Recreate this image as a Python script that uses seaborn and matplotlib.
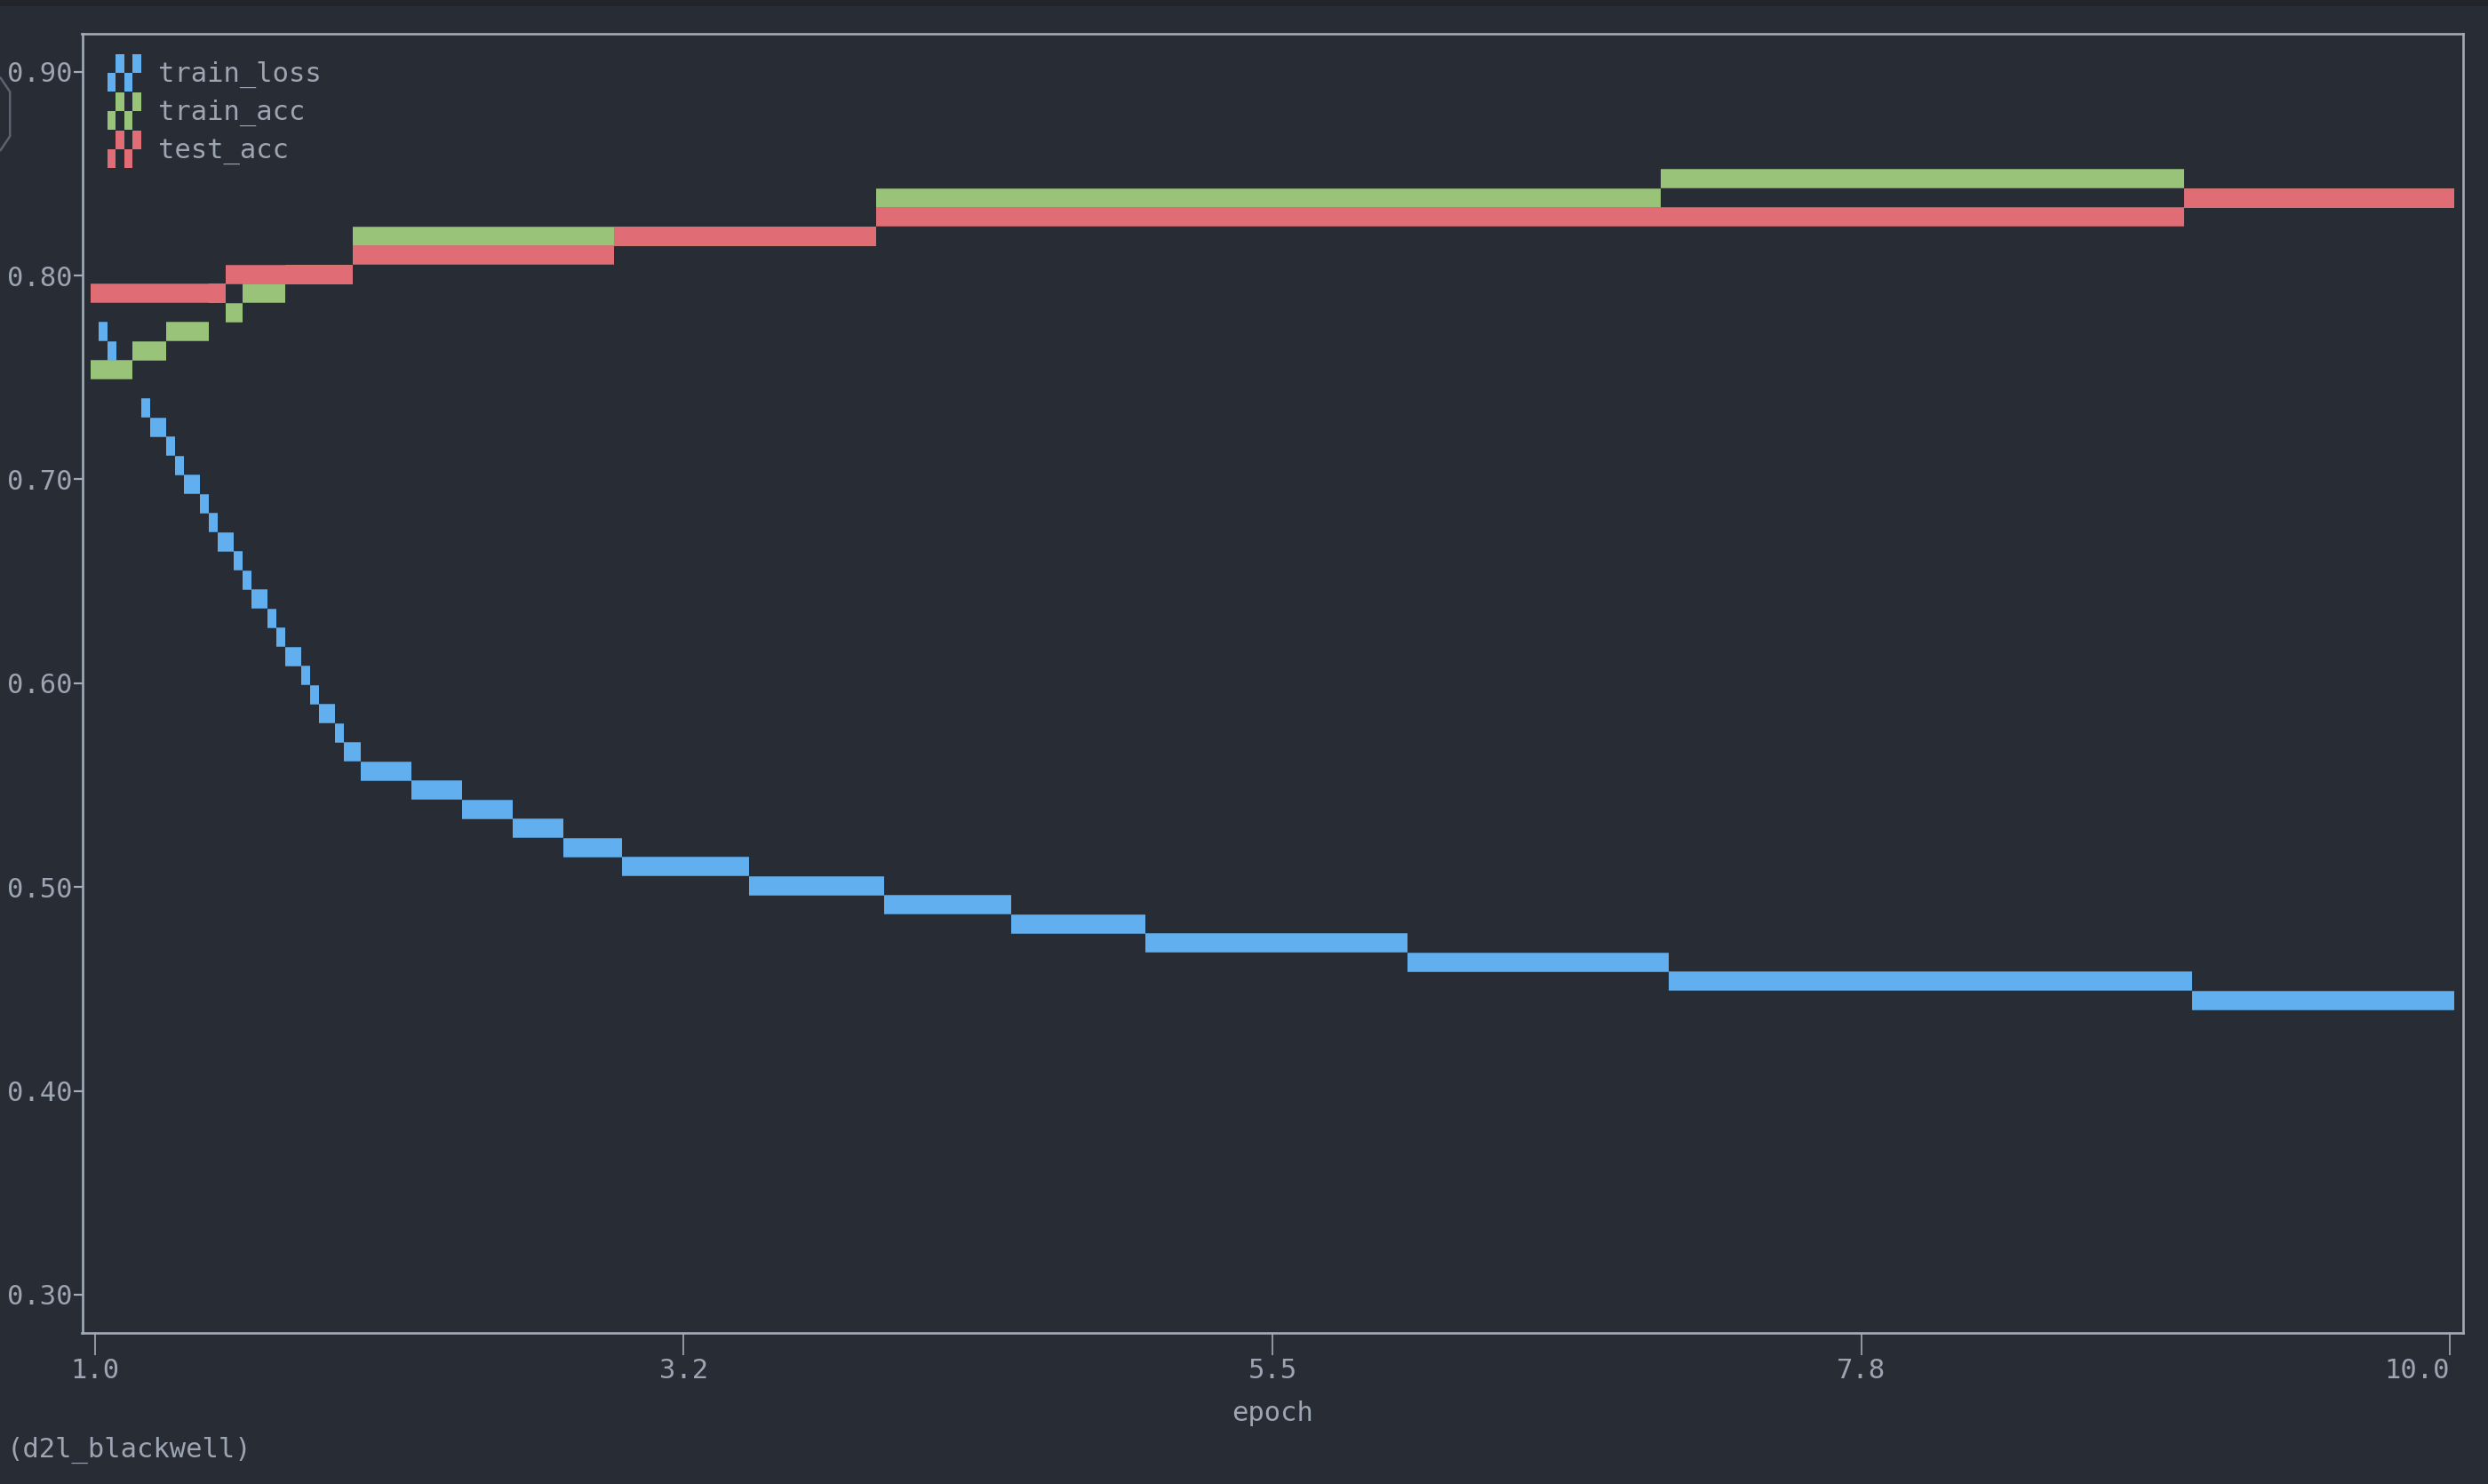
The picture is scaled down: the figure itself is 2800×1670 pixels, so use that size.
import matplotlib
matplotlib.use("Agg")
import matplotlib.pyplot as plt
import numpy as np
import pandas as pd
import seaborn as sns
from matplotlib.legend_handler import HandlerBase
from matplotlib.patches import Rectangle, Patch
from matplotlib.lines import Line2D

# ---------------- data (epoch ranges and metric values of each drawn run) ----------------
series_names = ["train_loss", "train_acc", "test_acc"]

train_loss_start = [1.016, 1.048, 1.177, 1.210, 1.274, 1.306, 1.339, 1.403, 1.435, 1.468,
                    1.532, 1.565, 1.597, 1.661, 1.694, 1.726, 1.790, 1.823, 1.855, 1.919,
                    1.952, 2.016, 2.210, 2.403, 2.597, 2.790, 3.016, 3.500, 4.016, 4.500,
                    5.016, 6.016, 7.016, 9.016]
train_loss_end = [1.048, 1.081, 1.210, 1.274, 1.306, 1.339, 1.403, 1.435, 1.468, 1.532,
                  1.565, 1.597, 1.661, 1.694, 1.726, 1.790, 1.823, 1.855, 1.919, 1.952,
                  2.016, 2.210, 2.403, 2.597, 2.790, 3.016, 3.500, 4.016, 4.500, 5.016,
                  6.016, 7.016, 9.016, 10.016]
train_loss_value = [0.7725, 0.7631, 0.7350, 0.7256, 0.7162, 0.7068, 0.6975, 0.6881, 0.6787, 0.6693,
                    0.6600, 0.6506, 0.6412, 0.6318, 0.6225, 0.6131, 0.6037, 0.5943, 0.5850, 0.5756,
                    0.5662, 0.5568, 0.5475, 0.5381, 0.5287, 0.5193, 0.5100, 0.5006, 0.4912, 0.4818,
                    0.4725, 0.4631, 0.4537, 0.4443]

train_acc_start = [0.984, 1.145, 1.274, 1.435, 1.500, 1.565, 1.726, 1.984, 3.984, 6.984, 8.984]
train_acc_end = [1.145, 1.274, 1.435, 1.500, 1.565, 1.726, 1.984, 3.984, 6.984, 8.984, 10.016]
train_acc_value = [0.7537, 0.7631, 0.7725, 0.7912, 0.7818, 0.7912, 0.8006, 0.8193, 0.8381, 0.8474, 0.8381]

test_acc_start = [0.984, 1.500, 1.984, 2.984, 3.984, 8.984]
test_acc_end = [1.500, 1.984, 2.984, 3.984, 8.984, 10.016]
test_acc_value = [0.7912, 0.8006, 0.8099, 0.8193, 0.8287, 0.8381]

x_ticks = [1.0, 3.25, 5.5, 7.75, 10.0]
x_tick_labels = ["1.0", "3.2", "5.5", "7.8", "10.0"]
y_ticks = [0.30, 0.40, 0.50, 0.60, 0.70, 0.80, 0.90]
y_tick_labels = ["0.30", "0.40", "0.50", "0.60", "0.70", "0.80", "0.90"]
x_label = "epoch"
footer_text = "(d2l_blackwell)"

# ---------------- style ----------------
BG = "#282c34"
TOP_BAR = "#21252b"
FG = "#9da5b3"
FRAME = "#a3abb8"
palette = {"train_loss": "#61afef", "train_acc": "#98c379", "test_acc": "#e06c75"}

sns.set_theme(style="dark", rc={
    "figure.facecolor": BG,
    "axes.facecolor": BG,
    "savefig.facecolor": BG,
    "axes.edgecolor": FRAME,
    "text.color": FG,
    "axes.labelcolor": FG,
    "xtick.color": FRAME,
    "ytick.color": FRAME,
    "lines.solid_capstyle": "butt",
})
plt.rcParams["font.family"] = ["DejaVu Sans Mono", "DejaVu Sans"]
FS = 22

# ---------------- long table ----------------
rows = []
seg_id = 0
for name, st, en, val in [
    ("train_loss", train_loss_start, train_loss_end, train_loss_value),
    ("train_acc", train_acc_start, train_acc_end, train_acc_value),
    ("test_acc", test_acc_start, test_acc_end, test_acc_value),
]:
    for s, e, v in zip(st, en, val):
        rows.append({"series": name, "seg": seg_id, "epoch": s, "value": v})
        rows.append({"series": name, "seg": seg_id, "epoch": e, "value": v})
        seg_id += 1
df = pd.DataFrame(rows)

# ---------------- figure ----------------
W, H = 2800, 1670
fig = plt.figure(figsize=(W / 100, H / 100), dpi=100)
ax_left, ax_right, ax_top, ax_bottom = 92.5, 2772.0, 38.0, 1500.0
ax = fig.add_axes([ax_left / W, 1 - ax_bottom / H, (ax_right - ax_left) / W, (ax_bottom - ax_top) / H])

YLIM = (0.28123, 0.91859)
XLIM = (0.95161, 10.0500)
ax.set_xlim(*XLIM)
ax.set_ylim(*YLIM)

# one text-row of the terminal in pixels -> line width in points
row_px = (ax_bottom - ax_top) * 0.009373 / (YLIM[1] - YLIM[0])
lw_pt = row_px * 72 / 100

sns.lineplot(data=df, x="epoch", y="value", hue="series", units="seg", estimator=None,
             hue_order=series_names, palette=palette, linewidth=lw_pt,
             solid_capstyle="butt", legend=False, ax=ax, sort=False)

ax.grid(False)
for sp in ax.spines.values():
    sp.set_visible(True)
    sp.set_color(FRAME)
    sp.set_linewidth(1.9)

ax.set_xticks(x_ticks, labels=x_tick_labels)
ax.set_yticks(y_ticks, labels=y_tick_labels)
ax.tick_params(axis="x", direction="out", length=18, width=1.2, pad=2.0,
               labelsize=FS, labelcolor=FG, bottom=True)
ax.tick_params(axis="y", direction="out", length=7, width=1.6, pad=1.0,
               labelsize=FS, labelcolor=FG, left=True)
# the terminal keeps the last tick label inside the screen: right-align it
xlabels = ax.get_xticklabels()
xlabels[-1].set_horizontalalignment("right")
ax.set_xlabel(x_label, fontsize=FS, color=FG, labelpad=13.5)
ax.set_ylabel("")


class QuadHandler(HandlerBase):
    def create_artists(self, legend, orig_handle, xdescent, ydescent, width, height, fontsize, trans):
        qw, qh = width / 4.0, height / 2.0
        color = orig_handle.get_facecolor()
        arts = []
        for cx, cy in [(1, 1), (3, 1), (0, 0), (2, 0)]:
            arts.append(Rectangle((-xdescent + cx * qw, -ydescent + cy * qh), qw, qh,
                                  facecolor=color, edgecolor="none", lw=0, transform=trans))
        return arts


handles = [Patch(facecolor=palette[n]) for n in series_names]
fs_px = FS * 100 / 72
ax.legend(handles, series_names, handler_map={Patch: QuadHandler()},
          loc="upper left", bbox_to_anchor=((121 - ax_left) / (ax_right - ax_left),
                                            1 - (61 - ax_top) / (ax_bottom - ax_top)),
          frameon=False, fontsize=FS, labelcolor=FG, borderpad=0, borderaxespad=0,
          handlelength=37.6 / fs_px, handleheight=1.738, handletextpad=19.6 / fs_px,
          labelspacing=0.03)

# terminal chrome
fig.patches.append(Rectangle((0, 1 - 7 / H), 1, 7 / H, transform=fig.transFigure,
                             facecolor=TOP_BAR, edgecolor="none", zorder=0))
fig.add_artist(Line2D([0, 11.2 / W, 11.2 / W, 0],
                      [1 - 86.7 / H, 1 - 103.3 / H, 1 - 153.3 / H, 1 - 170 / H],
                      transform=fig.transFigure, color="#5c6370", lw=1.8))
fig.text(8 / W, 1 - 1640 / H, footer_text, fontsize=FS, color=FG, ha="left", va="baseline")

fig.savefig("out.png", dpi=100, facecolor=BG)
